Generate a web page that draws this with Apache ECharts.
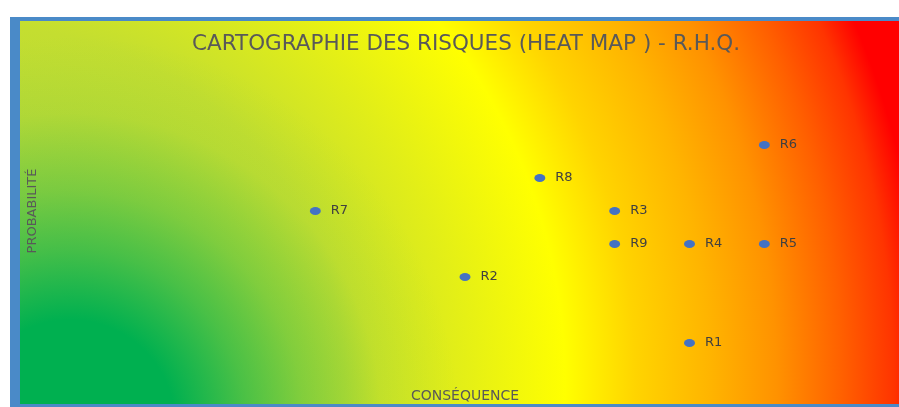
<!DOCTYPE html>
<html>
<head>
<meta charset="utf-8">
<script src="https://cdn.jsdelivr.net/npm/echarts@6/dist/echarts.min.js"></script>
<style>
  html, body { margin: 0; padding: 0; background: #fff; }
  #main { width: 899px; height: 407px; }
</style>
</head>
<body>
<div id="main"></div>
<script>
// risques : conséquence (x) / probabilité (y)
var risques = ['R1', 'R2', 'R3', 'R4', 'R5', 'R6', 'R7', 'R8', 'R9'];
var consequence = [9, 6, 8, 9, 10, 10, 4, 7, 8];
var probabilite = [2, 4, 6, 5, 5, 8, 6, 7, 5];

var chart = echarts.init(document.getElementById('main'), null, { renderer: 'canvas' });

var points = risques.map(function (r, i) {
  return { name: r, value: [consequence[i], probabilite[i]] };
});

var police = '"DejaVu Sans", "Open Sans", sans-serif';

// fond : dégradé jaune -> rouge depuis le coin bas gauche
var fond = new echarts.graphic.RadialGradient(-13, 384, 940, [
  { offset: 0, color: '#9CCE46' },
  { offset: 0.38, color: '#C4DE30' },
  { offset: 0.5, color: '#E2EE18' },
  { offset: 0.615, color: '#FFFF00' },
  { offset: 0.69, color: '#FFD400' },
  { offset: 0.77, color: '#FFB400' },
  { offset: 0.84, color: '#FF9200' },
  { offset: 0.91, color: '#FF6000' },
  { offset: 0.965, color: '#FF3400' },
  { offset: 1, color: '#FF0000' }
], true);

// zone verte en bas à gauche
var vert = new echarts.graphic.RadialGradient(70, 425, 390, [
  { offset: 0, color: 'rgba(0,176,80,1)' },
  { offset: 0.27, color: 'rgba(0,176,80,1)' },
  { offset: 0.45, color: 'rgba(0,176,80,0.6)' },
  { offset: 0.6, color: 'rgba(0,176,80,0.32)' },
  { offset: 0.8, color: 'rgba(0,176,80,0.06)' },
  { offset: 1, color: 'rgba(0,176,80,0)' }
], true);

var option = {
  animation: false,
  title: {
    text: 'CARTOGRAPHIE DES RISQUES (HEAT MAP ) - R.H.Q.',
    left: 461,
    top: 28,
    textAlign: 'center',
    textStyle: {
      fontFamily: police,
      fontSize: 21.5,
      fontWeight: 'normal',
      color: '#595959'
    }
  },
  graphic: [
    { type: 'rect', z: -20, shape: { x: 10, y: 17, width: 889, height: 390 }, style: { fill: '#4A8AC8' } },
    { type: 'rect', z: -19, shape: { x: 20, y: 21, width: 879, height: 383 }, style: { fill: fond } },
    { type: 'rect', z: -18, shape: { x: 20, y: 21, width: 879, height: 383 }, style: { fill: vert } },
    {
      type: 'text', z: 5, x: 33, y: 211, rotation: Math.PI / 2,
      style: {
        text: 'PROBABILITÉ', align: 'center', verticalAlign: 'middle',
        font: '13px ' + police, fill: '#595959'
      }
    },
    {
      type: 'text', z: 5, x: 465, y: 396,
      style: {
        text: 'CONSÉQUENCE', align: 'center', verticalAlign: 'middle',
        font: '14px ' + police, fill: '#595959'
      }
    }
  ],
  grid: { left: 16, top: 13, width: 898, height: 396, outerBoundsMode: 'none' },
  xAxis: { type: 'value', min: 0, max: 12, show: false },
  yAxis: { type: 'value', min: 0, max: 12, show: false },
  series: [{
    type: 'scatter',
    data: points,
    symbol: 'circle',
    symbolSize: [11, 8],
    itemStyle: { color: '#4472C4', opacity: 1 },
    label: {
      show: true,
      position: 'right',
      distance: 10,
      formatter: '{b}',
      fontFamily: police,
      fontSize: 13,
      color: '#404040'
    }
  }]
};
chart.setOption(option);
</script>
</body>
</html>
